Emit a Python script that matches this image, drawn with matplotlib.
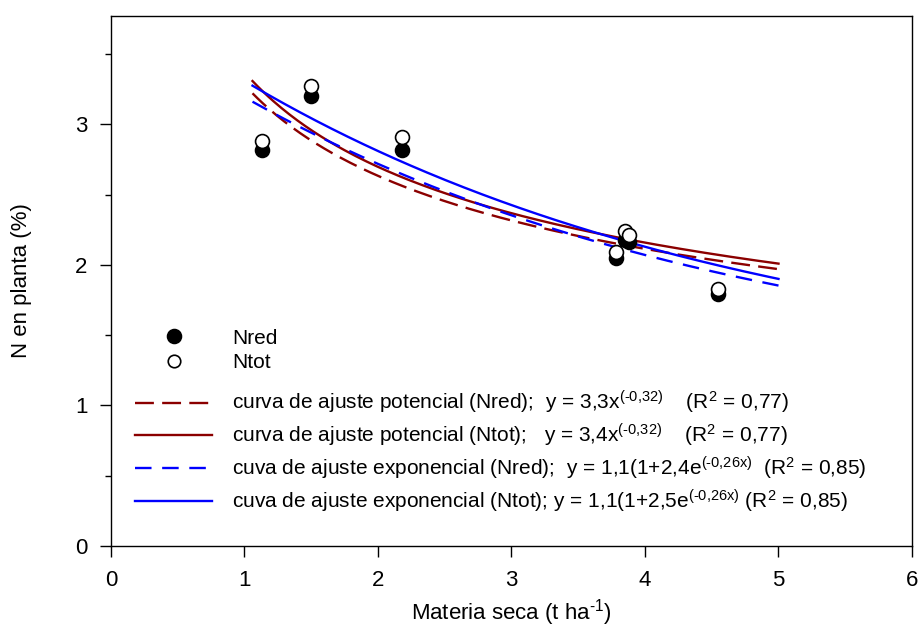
import matplotlib
matplotlib.use('Agg')
import matplotlib.pyplot as plt
from matplotlib.lines import Line2D
import numpy as np

plt.rcParams['font.family'] = ['Liberation Sans', 'DejaVu Sans']
plt.rcParams['mathtext.fontset'] = 'custom'
plt.rcParams['mathtext.rm'] = 'Liberation Sans'
plt.rcParams['mathtext.it'] = 'Liberation Sans:italic'

# measured points (t ha-1, %)
materia_seca = [1.13, 1.50, 2.18, 3.78, 3.85, 3.88, 4.55]
n_red = [2.82, 3.20, 2.82, 2.05, 2.18, 2.16, 1.79]
n_tot = [2.88, 3.27, 2.91, 2.09, 2.24, 2.21, 1.83]

# fitted curve parameters
pot_nred = [3.28, -0.317]          # y = a * x^b
pot_ntot = [3.37, -0.3215]
exp_nred = [1.12, 2.4, 0.26]       # y = a * (1 + b * exp(-c x))
exp_ntot = [1.13, 2.5, 0.26]
x_fit_range = [1.06, 5.0]


def sup(s):
    return '$^{\\mathregular{' + s + '}}$'


labels = [
    'curva de ajuste potencial (Nred);  y = 3,3x' + sup('(\\text{-}0{,}32)') + '    (R' + sup('2') + ' = 0,77)',
    'curva de ajuste potencial (Ntot);   y = 3,4x' + sup('(\\text{-}0{,}32)') + '    (R' + sup('2') + ' = 0,77)',
    'cuva de ajuste exponencial (Nred);  y = 1,1(1+2,4e' + sup('(\\text{-}0{,}26x)') + '  (R' + sup('2') + ' = 0,85)',
    'cuva de ajuste exponencial (Ntot); y = 1,1(1+2,5e' + sup('(\\text{-}0{,}26x)') + ' (R' + sup('2') + ' = 0,85)',
]

red = '#8b0000'
blue = '#0000ff'

fig = plt.figure(figsize=(9.2, 6.35), dpi=100)
ax = fig.add_axes([111 / 920, (635 - 546) / 635, 801 / 920, 530 / 635])

xf = np.linspace(x_fit_range[0], x_fit_range[1], 200)
l1, = ax.plot(xf, pot_nred[0] * xf ** pot_nred[1], color=red, lw=1.7, dashes=(8, 3.5))
l2, = ax.plot(xf, pot_ntot[0] * xf ** pot_ntot[1], color=red, lw=1.7)
l3, = ax.plot(xf, exp_nred[0] * (1 + exp_nred[1] * np.exp(-exp_nred[2] * xf)), color=blue, lw=1.7, dashes=(7, 4.5))
l4, = ax.plot(xf, exp_ntot[0] * (1 + exp_ntot[1] * np.exp(-exp_ntot[2] * xf)), color=blue, lw=1.7)

ax.plot(materia_seca, n_red, 'o', ms=10, mfc='black', mec='black', mew=1.2, ls='none')
ax.plot(materia_seca, n_tot, 'o', ms=10, mfc='white', mec='black', mew=1.2, ls='none')

ax.set_xlim(0, 6)
ax.set_ylim(0, 3.77)
ax.set_xticks(range(0, 7))
ax.set_yticks([0, 1, 2, 3])
ax.set_yticks([0.5, 1.5, 2.5, 3.5], minor=True)
ax.tick_params(axis='both', which='major', direction='out', length=8, width=1, labelsize=16, pad=9)
ax.tick_params(axis='y', which='minor', direction='out', length=4, width=1)
for s in ax.spines.values():
    s.set_linewidth(1)

ax.set_xlabel('Materia seca (t ha' + sup('\\text{-}1') + ')', fontsize=16, labelpad=5)
ax.set_ylabel('N en planta (%)', fontsize=16, labelpad=31)

pts = [Line2D([], [], marker='o', ls='none', ms=10, mfc='black', mec='black', mew=1.2),
       Line2D([], [], marker='o', ls='none', ms=9, mfc='white', mec='black', mew=1.2)]
leg1 = ax.legend(pts, ['Nred', 'Ntot'], loc='upper left', bbox_to_anchor=(0.03, 0.41),
                 frameon=False, fontsize=15, handlelength=3.7, handletextpad=0.96,
                 labelspacing=0.27, borderpad=0, borderaxespad=0)
ax.add_artist(leg1)
ax.legend([l1, l2, l3, l4], labels, loc='upper left', bbox_to_anchor=(0.03, 0.296),
          frameon=False, fontsize=15, handlelength=3.7, handletextpad=0.96,
          labelspacing=0.27, borderpad=0, borderaxespad=0)

fig.savefig('out.png', dpi=100)
